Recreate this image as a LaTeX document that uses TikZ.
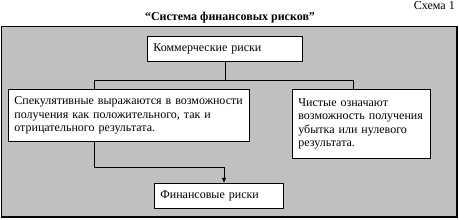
\documentclass[tikz,border=0pt]{standalone}
\usepackage{fontspec}
\setmainfont{Liberation Serif}
\usetikzlibrary{arrows.meta,positioning,calc}
\definecolor{Panel}{HTML}{C0C0C0}
\definecolor{Ink}{HTML}{000000}
\tikzset{
  box/.style={draw=Ink,fill=white,line width=.8pt,anchor=north west,align=left,inner xsep=6pt,inner ysep=5pt,font=\fontsize{12}{13.5}\selectfont},
  flow/.style={-{Latex[length=5pt,width=4.5pt]},draw=Ink,line width=.8pt},
  plainline/.style={draw=Ink,line width=.8pt}
}
\begin{document}
\begin{tikzpicture}[x=1pt,y=1pt]
  \useasboundingbox (0,0) rectangle (459,220);
  % grey panel
  \fill[Panel,draw=Ink,line width=.6pt] (1,194) rectangle (457,3);
  \draw[Ink,line width=1.6pt] (1,3) -- (457,3) -- (457,194);
  \node[font=\fontsize{12}{14}\selectfont,anchor=north east,inner sep=0pt] (num) at (455,219) {Схема 1};
  \node[font=\bfseries\fontsize{12}{14}\selectfont,inner sep=0pt] (title) at (230,202) {“Система финансовых рисков”};
  \node[box,text width=143pt,minimum height=25pt] (com) at (147,184) {Коммерческие риски};
  \node[box,text width=229pt,minimum height=52pt] (spec) at (8,131) {Спекулятивные выражаются в возможности\\получения как положительного, так и\\отрицательного результата.};
  \node[box,text width=126pt,minimum height=69pt] (pure) at (292,131) {Чистые означают\\возможность получения\\убытка или нулевого\\результата.};
  \node[box,text width=117pt,minimum height=25pt] (fin) at (154,37) {Финансовые риски};
  \coordinate (jl) at (94,140);
  \coordinate (jr) at (353,140);
  \coordinate (jb) at (94,53);
  \coordinate (ja) at (224,53);
  \draw[plainline] (com.south) -- (com.south |- jl);
  \draw[plainline] (spec.north -| jl) -- (jl) -- (jr) -- (pure.north -| jr);
  \draw[flow] (spec.south -| jb) -- (jb) -- (ja) -- (fin.north -| ja);
\end{tikzpicture}
\end{document}
